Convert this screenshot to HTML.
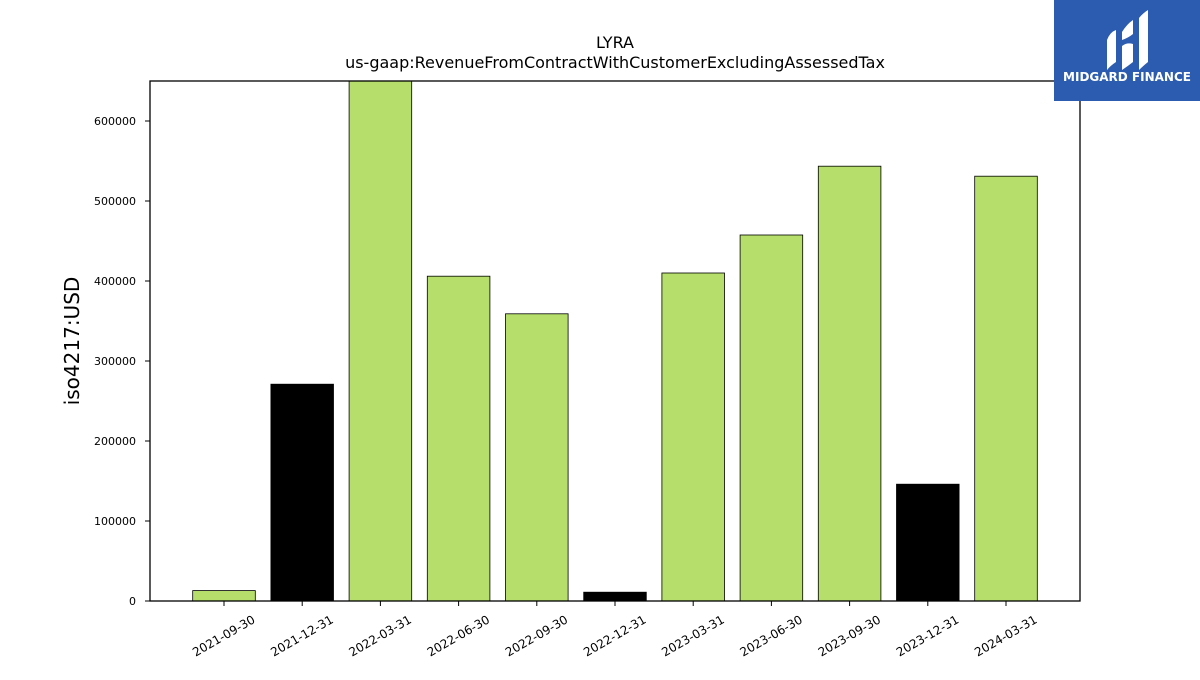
<!DOCTYPE html>
<html><head><meta charset="utf-8"><style>
body{margin:0;background:#fff;}
svg text{font-family:"DejaVu Sans","Liberation Sans",sans-serif;}
</style></head><body>
<svg id="chart" width="1200" height="675" viewBox="0 0 1200 675" xmlns="http://www.w3.org/2000/svg">
<text x="615" y="48" text-anchor="middle" font-size="16">LYRA</text>
<text x="615" y="68" text-anchor="middle" font-size="16">us-gaap:RevenueFromContractWithCustomerExcludingAssessedTax</text>
<text transform="translate(79,341) rotate(-90)" text-anchor="middle" font-size="20">iso4217:USD</text>
<defs><clipPath id="pc"><rect x="150" y="81" width="930" height="520"/></clipPath></defs>
<g id="bars" clip-path="url(#pc)"></g>
<g id="axes"></g>
<rect x="150" y="81" width="930" height="520" fill="none" stroke="#000" stroke-width="1.3"/>
<g>
<rect x="1054" y="0" width="146" height="101" fill="#2b5cb0"/>
<path d="M1107 40 Q1110 32 1116 30 L1116 62 Q1110 66 1107 70 Z" fill="#fff"/>
<path d="M1122 32 Q1127 24 1133 20 L1133 34 Q1128 38 1122 40 Z M1122 46 Q1127 42 1133 44 L1133 62 Q1128 66 1122 70 Z" fill="#fff"/>
<path d="M1139 18 Q1143 13 1148 10 L1148 62 Q1143 66 1139 70 Z" fill="#fff"/>
<text x="1127" y="81" text-anchor="middle" font-size="12" font-weight="bold" fill="#fff">MIDGARD FINANCE</text>
</g>
</svg>
<script>
const categories=["2021-09-30","2021-12-31","2022-03-31","2022-06-30","2022-09-30","2022-12-31","2023-03-31","2023-06-30","2023-09-30","2023-12-31","2024-03-31"];
const values=[13000,271000,700000,406000,359000,11000,410000,457500,543500,146000,531000];
const colors=["#b5df6a","#000000","#b5df6a","#b5df6a","#b5df6a","#000000","#b5df6a","#b5df6a","#b5df6a","#000000","#b5df6a"];
const yTicks=[0,100000,200000,300000,400000,500000,600000];
const NS="http://www.w3.org/2000/svg";
const y=v=>601-v*0.0008;
const x=i=>224+i*78.2;
const bw=62.6;
const bars=document.getElementById('bars'),axes=document.getElementById('axes');
function mk(t,a,p){const e=document.createElementNS(NS,t);for(const k in a)e.setAttribute(k,a[k]);p.appendChild(e);return e;}
values.forEach((v,i)=>{
 const r=mk('rect',{x:x(i)-bw/2,y:y(v),width:bw,height:y(0)-y(v),fill:colors[i],stroke:'#000','stroke-width':0.8},bars);
 
 
 mk('line',{x1:x(i),x2:x(i),y1:601,y2:606,stroke:'#000'},axes);
 const t=mk('text',{x:0,y:0,'font-size':12,'text-anchor':'end',transform:`translate(${x(i)+32},${622}) rotate(-30)`},axes);
 t.textContent=categories[i];
 
 
});
yTicks.forEach(v=>{
 mk('line',{x1:145,x2:150,y1:y(v),y2:y(v),stroke:'#000'},axes);
 const t=mk('text',{x:136,y:y(v)+4,'font-size':11,'text-anchor':'end'},axes);
 t.textContent=v;
 
 
});
</script>
</body></html>
